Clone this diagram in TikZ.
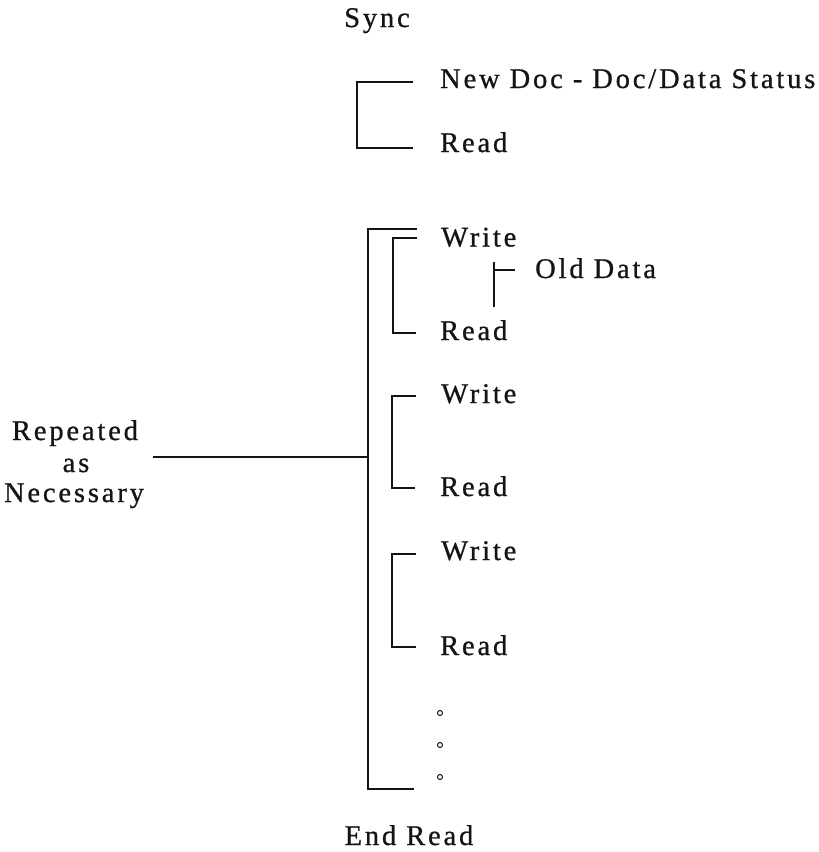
\documentclass[tikz,border=0pt]{standalone}
\usepackage{fontspec}
\setmainfont{Liberation Serif}[LetterSpace=10, FakeBold=0.8]
\definecolor{ink}{gray}{0.08}
\begin{document}
\begin{tikzpicture}[x=1pt,y=-1pt,
  lbl/.style={inner sep=0pt, anchor=base west, text=ink,
              font=\fontsize{28.5}{33}\selectfont},
  ctr/.style={lbl, anchor=base},
  rule/.style={draw=ink, line width=1.7pt},
  dotmark/.style={circle, draw=ink, line width=1pt, inner sep=0pt, minimum size=5pt}]
\useasboundingbox (0,0) rectangle (819,852);

% headings
\node[ctr] (sync) at (377,27) {Sync};
\node[ctr] (endread) at (409,845) {End Read};

% opening pair
\node[lbl] (newdoc) at (440,88) {New Doc - Doc/Data Status};
\node[lbl] (read0) at (440,152) {Read};
\coordinate (b0t) at (413,82);
\coordinate (b0b) at (413,148);
\draw[rule] (b0t) -- (357,82) -- (357,148) -- (b0b);

% repeated block: outer bracket
\coordinate (outt) at (417,229);
\coordinate (outb) at (414,789);
\draw[rule] (outt) -- (368,229) -- (368,789) -- (outb);

% first write/read pair with old data
\node[lbl] (write1) at (441,246.5) {Write};
\node[lbl] (read1) at (440,340) {Read};
\coordinate (b1t) at (417,238);
\coordinate (b1b) at (416,333);
\draw[rule] (b1t) -- (393,238) -- (393,333) -- (b1b);
\node[lbl] (olddata) at (535,278) {Old Data};
\coordinate (odtop) at (494,262);
\coordinate (odbot) at (494,307);
\draw[rule] (odtop) -- (odbot);
\coordinate (odj) at (494,270);
\coordinate (odend) at (515,270);
\draw[rule] (odj) -- (odend);

% second write/read pair
\node[lbl] (write2) at (441,403) {Write};
\node[lbl] (read2) at (440,496) {Read};
\coordinate (b2t) at (416,396);
\coordinate (b2b) at (415,488);
\draw[rule] (b2t) -- (392,396) -- (392,488) -- (b2b);

% third write/read pair
\node[lbl] (write3) at (441,560) {Write};
\node[lbl] (read3) at (440,655) {Read};
\coordinate (b3t) at (416,554);
\coordinate (b3b) at (416,647);
\draw[rule] (b3t) -- (392,554) -- (392,647) -- (b3b);

% continuation dots
\node[dotmark] (d1) at (440,713) {};
\node[dotmark] (d2) at (440,745) {};
\node[dotmark] (d3) at (440,777) {};

% side label and its connector to the outer bracket
\node[ctr] (rep) at (75,440) {Repeated};
\node[ctr] (as) at (76,472) {as};
\node[ctr] (nec) at (74,502) {Necessary};
\coordinate (repend) at (153,457);
\coordinate (spine) at (368,457);
\draw[rule] (repend) -- (spine);
\end{tikzpicture}
\end{document}
